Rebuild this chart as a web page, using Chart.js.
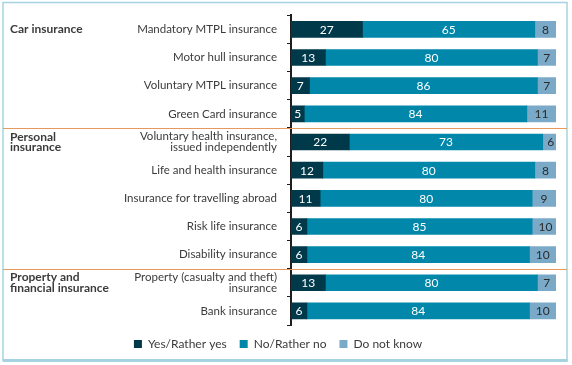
<!DOCTYPE html>
<html>
<head>
<meta charset="utf-8">
<script src="https://cdn.jsdelivr.net/npm/chart.js@4"></script>
<style>
  body { margin: 0; background: #fff; }
  #wrap { width: 572px; height: 365px; position: relative; }
</style>
</head>
<body>
<div id="wrap"><canvas id="insChart" width="572" height="365"></canvas></div>
<script>
// categories (multi-line ones as arrays)
const categories = [
    'Mandatory MTPL insurance',
    'Motor hull insurance',
    'Voluntary MTPL insurance',
    'Green Card insurance',
    ['Voluntary health insurance,', 'issued independently'],
    'Life and health insurance',
    'Insurance for travelling abroad',
    'Risk life insurance',
    'Disability insurance',
    ['Property (casualty and theft)', 'insurance'],
    'Bank insurance'
];
const yesValues = [27, 13, 7, 5, 22, 12, 11, 6, 6, 13, 6];
const noValues = [65, 80, 86, 84, 73, 80, 80, 85, 84, 80, 84];
const dontKnowValues = [8, 7, 7, 11, 6, 8, 9, 10, 10, 7, 10];
const seriesNames = ['Yes/Rather yes', 'No/Rather no', 'Do not know'];

// groups: label lines + first category index
const groups = [
    { lines: ['Car insurance'], first: 0 },
    { lines: ['Personal', 'insurance'], first: 4 },
    { lines: ['Property and', 'financial insurance'], first: 9 }
];

const textColor = '#3b3b3b';
const fontFamily = 'Lato, "Noto Sans", sans-serif';

// rahmen, gruppen, trennlinien, zahlen in den balken
const extras = {
    id: 'extras',
    beforeDraw(chart) {
        const c = chart.ctx;
        c.save();
        c.strokeStyle = '#a6d3e2';
        c.lineWidth = 1.5;
        c.strokeRect(3, 2.5, 564, 358);
        c.fillStyle = '#a6d3e2';
        c.fillRect(3, 359, 564.7, 3);
        c.restore();
    },
    afterDatasetsDraw(chart) {
        const c = chart.ctx;
        const y = chart.scales.y;
        c.save();
        // data labels
        c.font = '12px ' + fontFamily;
        c.textAlign = 'center';
        c.textBaseline = 'middle';
        chart.data.datasets.forEach((ds, i) => {
            const meta = chart.getDatasetMeta(i);
            meta.data.forEach((bar, j) => {
                c.fillStyle = i === 2 ? '#2b2b2b' : '#ffffff';
                c.fillText(ds.data[j], (bar.x + bar.base) / 2, bar.y + 0.5);
            });
        });
        // separators between groups
        c.strokeStyle = '#e39a5c';
        c.lineWidth = 1;
        groups.slice(1).forEach(g => {
            const py = Math.round((y.getPixelForValue(g.first - 1) + y.getPixelForValue(g.first)) / 2) + 0.5;
            c.beginPath();
            c.moveTo(3, py);
            c.lineTo(567, py);
            c.stroke();
        });
        // group labels
        c.font = 'bold 12px ' + fontFamily;
        c.fillStyle = textColor;
        c.textAlign = 'left';
        groups.forEach(g => {
            const cy = y.getPixelForValue(g.first);
            const lh = 10.5;
            const top = cy - (g.lines.length - 1) * lh / 2;
            g.lines.forEach((l, k) => c.fillText(l, 10, top + k * lh));
        });
        c.restore();
    }
};

const ctx = document.getElementById('insChart').getContext('2d');
const insChart = new Chart(ctx, {
    type: 'bar',
    data: {
        labels: categories,
        datasets: [
            { label: seriesNames[0], data: yesValues, backgroundColor: '#00394a' },
            { label: seriesNames[1], data: noValues, backgroundColor: '#0087a9' },
            { label: seriesNames[2], data: dontKnowValues, backgroundColor: '#7aaac8' }
        ]
    },
    options: {
        indexAxis: 'y',
        responsive: false,
        animation: false,
        events: [],
        datasets: {
            bar: { barThickness: 16, borderWidth: 0 }
        },
        layout: { padding: { top: 13, right: 16, bottom: 5, left: 0 } },
        scales: {
            x: { stacked: true, min: 0, max: 100, display: false },
            y: {
                stacked: true,
                afterFit: (scale) => { scale.width = 291; },
                border: { display: true, color: '#1e1e1e', width: 2 },
                grid: { drawOnChartArea: false, drawTicks: true, tickLength: 4, color: '#1e1e1e', offset: true },
                ticks: {
                    padding: 10,
                    color: textColor,
                    font: { family: fontFamily, size: 11.5, lineHeight: 0.92 }
                }
            }
        },
        plugins: {
            legend: {
                position: 'bottom',
                labels: {
                    boxWidth: 8,
                    boxHeight: 8,
                    padding: 13,
                    color: textColor,
                    font: { family: fontFamily, size: 12 }
                }
            },
            tooltip: { enabled: false }
        }
    },
    plugins: [extras]
});
</script>
</body>
</html>
